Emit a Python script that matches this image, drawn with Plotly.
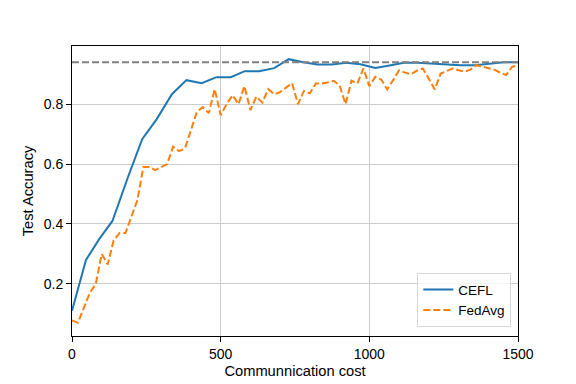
import plotly.graph_objects as go

# communication cost (x) and test accuracy (y)
cefl_x = [0, 47, 92, 136, 186, 236, 285, 336, 385, 436, 486, 534, 581, 629, 680, 729,
          778, 826, 874, 922, 970, 1020, 1068, 1116, 1162, 1210, 1258, 1306, 1355, 1403, 1452, 1500]
cefl_y = [0.11, 0.28, 0.35, 0.41, 0.55, 0.683, 0.75, 0.833, 0.88, 0.87, 0.89, 0.89, 0.91, 0.91, 0.92, 0.95,
          0.94, 0.932, 0.932, 0.938, 0.933, 0.921, 0.929, 0.938, 0.938, 0.935, 0.932, 0.93, 0.93, 0.935, 0.94, 0.94]

fedavg_x = [0, 20, 40, 60, 80, 100, 120, 140, 160, 180, 200, 220, 240, 260, 280, 300,
            320, 340, 360, 380, 400, 420, 440, 460, 480, 500, 520, 540, 560, 580, 600,
            620, 640, 660, 680, 700, 720, 740, 760, 780, 800, 820, 840, 860, 880, 900,
            920, 940, 960, 980, 1000, 1020, 1040, 1060, 1080, 1100, 1120, 1140, 1160, 1180, 1200,
            1220, 1240, 1260, 1280, 1300, 1320, 1340, 1360, 1380, 1400, 1420, 1440, 1460, 1480, 1500]
fedavg_y = [0.078, 0.070, 0.12, 0.17, 0.20, 0.30, 0.265, 0.345, 0.37, 0.37, 0.425, 0.48, 0.59, 0.59, 0.58, 0.59,
            0.60, 0.658, 0.643, 0.652, 0.71, 0.774, 0.79, 0.77, 0.85, 0.763, 0.80, 0.83, 0.80, 0.86, 0.78,
            0.825, 0.805, 0.85, 0.833, 0.84, 0.855, 0.87, 0.80, 0.844, 0.836, 0.869, 0.869, 0.872, 0.878, 0.863,
            0.80, 0.878, 0.869, 0.919, 0.86, 0.891, 0.882, 0.849, 0.88, 0.913, 0.905, 0.90, 0.912, 0.919, 0.885,
            0.849, 0.902, 0.91, 0.919, 0.913, 0.908, 0.915, 0.93, 0.925, 0.92, 0.915, 0.905, 0.897, 0.924, 0.93]

target_acc = 0.94
x_ticks = [0, 500, 1000, 1500]
y_ticks = [0.2, 0.4, 0.6, 0.8]

font = "Liberation Sans, Arial, sans-serif"

fig = go.Figure()

# CEFL (solid blue)
fig.add_trace(go.Scatter(
    x=cefl_x, y=cefl_y, mode='lines',
    line=dict(color='#1f77b4', width=2),
    name='CEFL'
))

# FedAvg (dashed orange)
fig.add_trace(go.Scatter(
    x=fedavg_x, y=fedavg_y, mode='lines',
    line=dict(color='#ff7f0e', width=2, dash='7px,3px'),
    name='FedAvg'
))

# target accuracy line (gray dashed)
fig.add_hline(y=target_acc, line=dict(color='#808080', width=2, dash='7px,3px'))

axis_style = dict(
    showline=True, mirror=True, linecolor='black', linewidth=1,
    ticks='outside', ticklen=5, tickwidth=1, tickcolor='black',
    showgrid=True, gridcolor='#cccccc', gridwidth=1,
    zeroline=False, automargin=False,
    tickfont=dict(family=font, size=14, color='black'),
)

fig.update_xaxes(axis_style, range=[0, 1500], tickvals=x_ticks,
                 title=dict(text='Communnication cost', font=dict(family=font, size=14.7, color='black'),
                            standoff=4))
fig.update_yaxes(axis_style, range=[0.026, 0.994], tickvals=y_ticks, tickformat='.1f',
                 title=dict(text='Test Accuracy', font=dict(family=font, size=14.7, color='black'),
                            standoff=6))

# the page body adds an 8px offset, so the figure is 8px smaller than the window
fig.update_layout(
    width=568, height=376,
    margin=dict(l=64, r=58, t=38, b=48),
    plot_bgcolor='white', paper_bgcolor='white',
    font=dict(family=font, size=14, color='black'),
    legend=dict(
        x=0.985, y=0.03, xanchor='right', yanchor='bottom',
        bgcolor='rgba(255,255,255,0.8)', bordercolor='#d5d5d5', borderwidth=1,
        font=dict(family=font, size=13.5, color='black'),
        itemwidth=30, tracegroupgap=0,
    ),
)

fig.write_html("out.html")
